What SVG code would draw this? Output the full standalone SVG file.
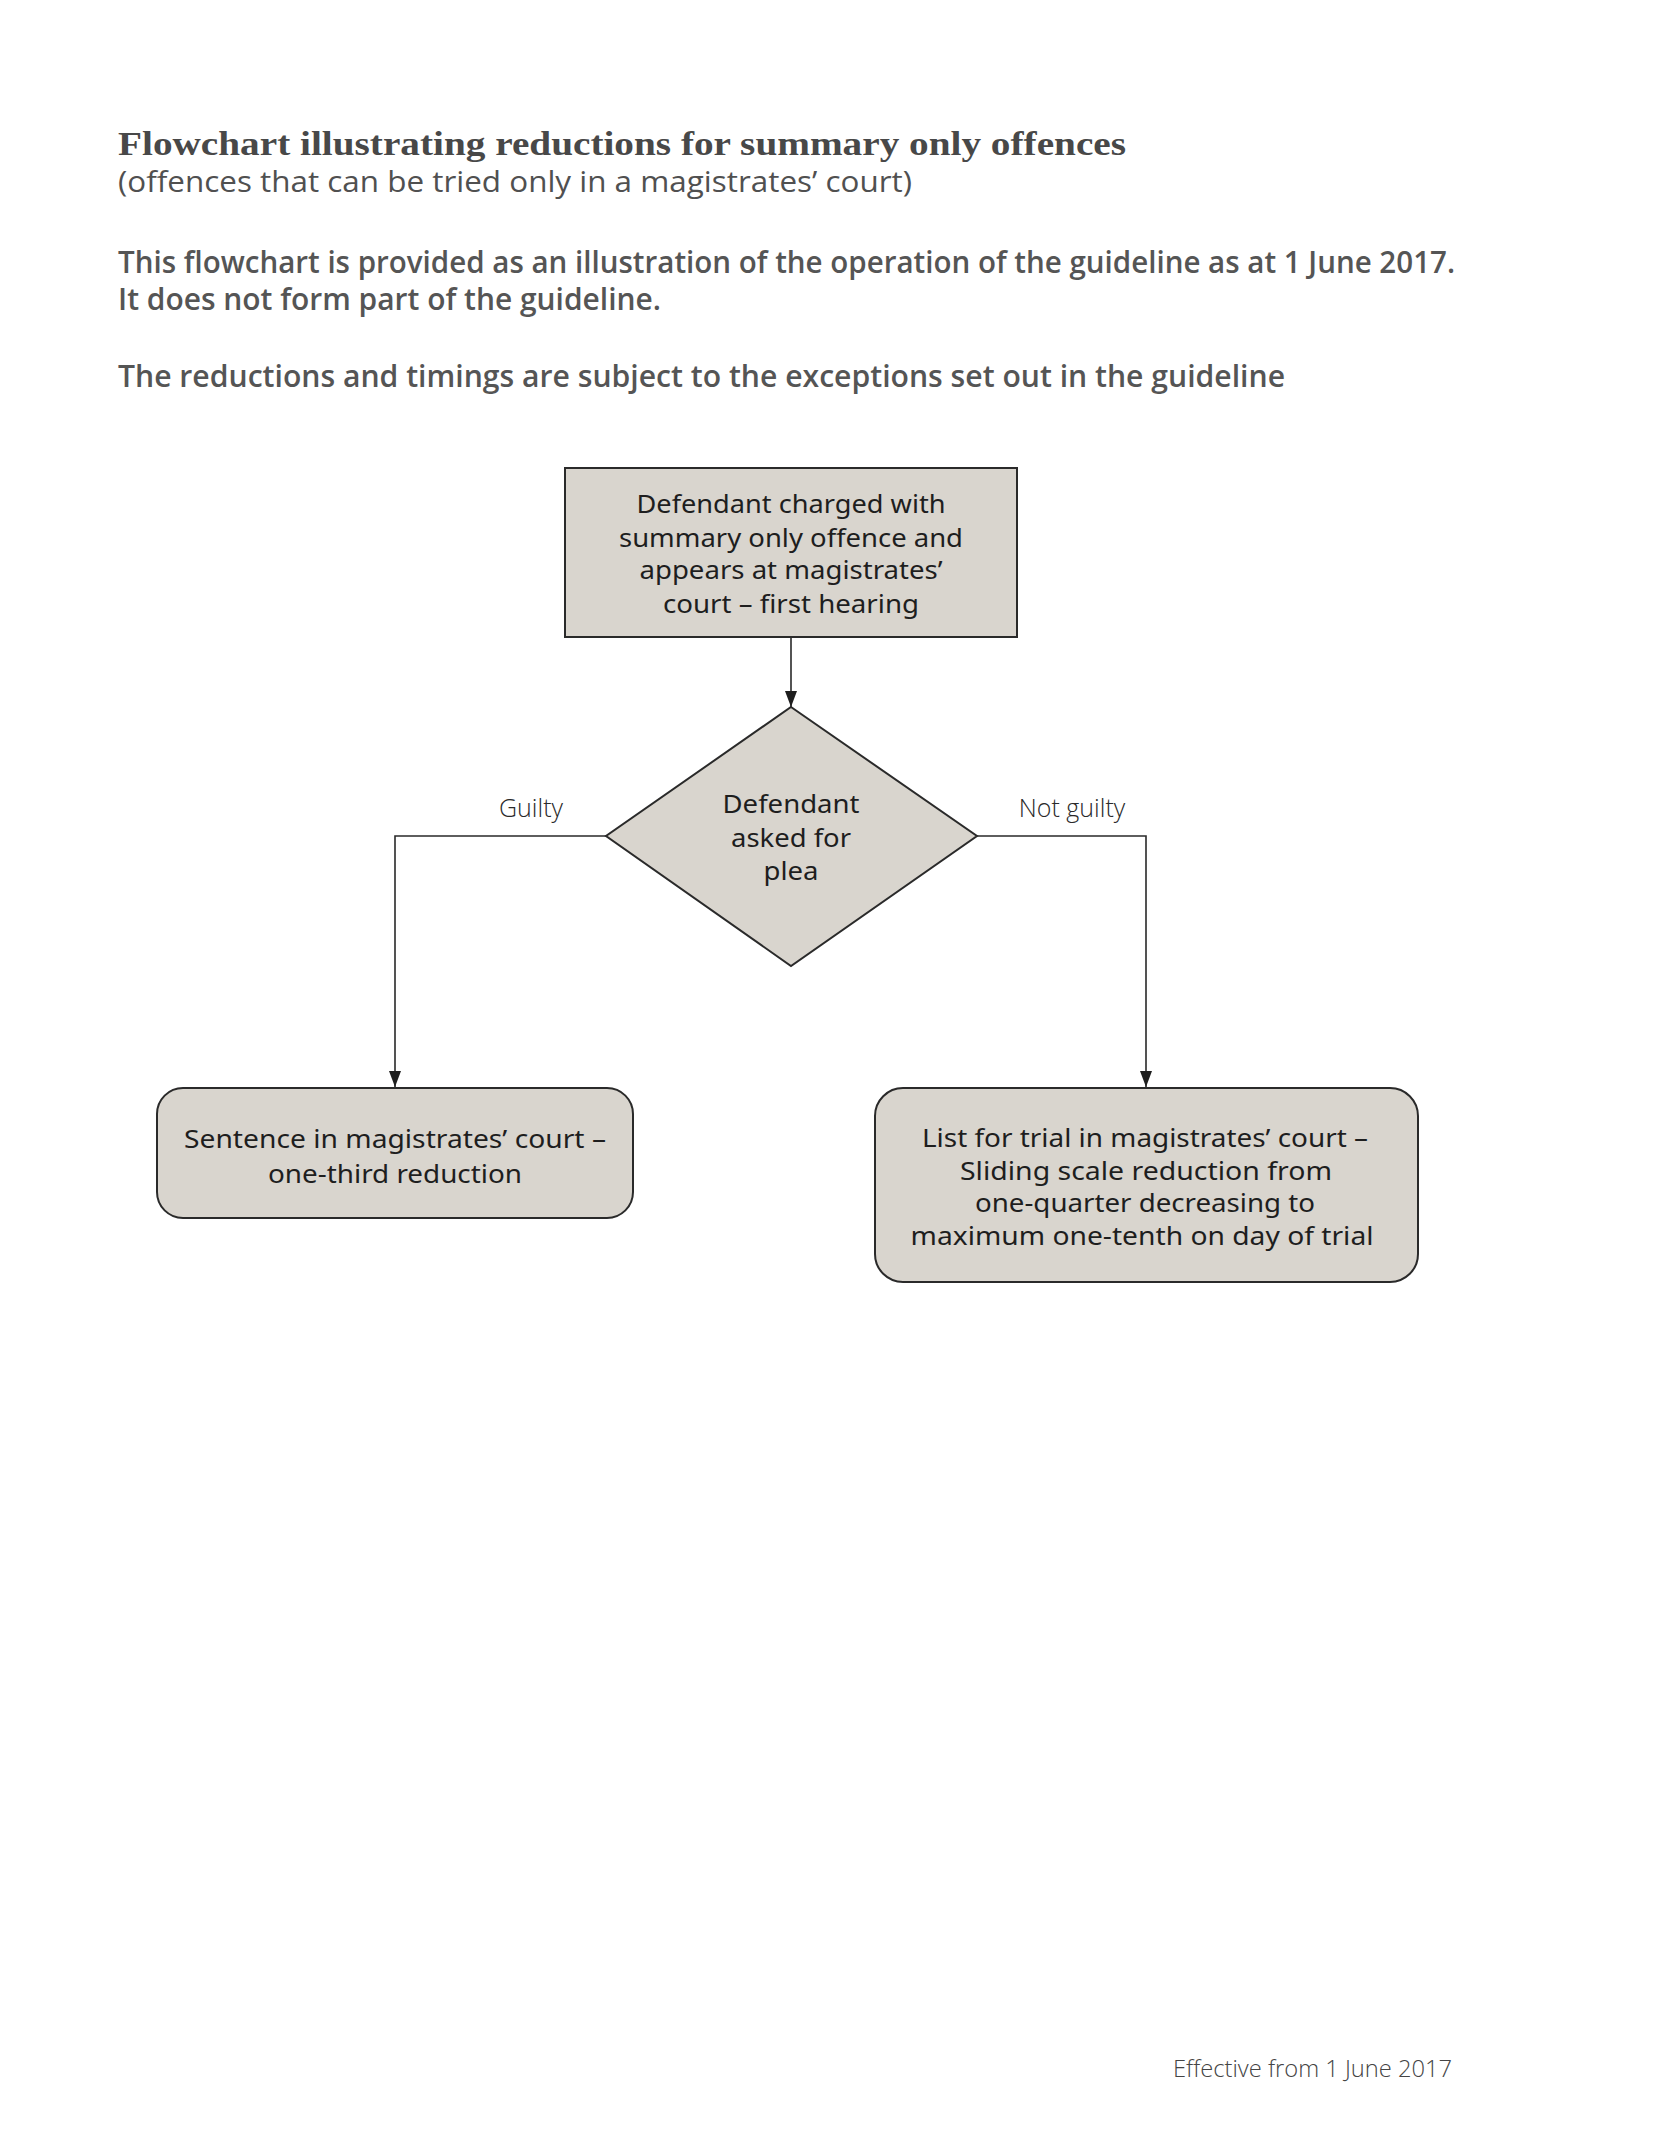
<svg xmlns="http://www.w3.org/2000/svg" width="1654" height="2152" viewBox="0 0 1654 2152">
<style>
.node{fill:#d9d5ce;stroke:#2a2a2a;stroke-width:2}
.ntext{font-family:"Noto Sans","Open Sans",sans-serif;font-size:26px;fill:#1e1e1e;text-anchor:middle}
.edge{fill:none;stroke:#2a2a2a;stroke-width:1.6}
.lbl{font-family:"Open Sans","Noto Sans",sans-serif;font-weight:300;font-size:25px;fill:#2a2a2a;text-anchor:middle}
.head{font-family:"Open Sans","Noto Sans",sans-serif;font-weight:600;font-size:30px;fill:#555}
</style>
<defs>
<marker id="arr" viewBox="0 0 16 12" refX="16" refY="6" markerWidth="16" markerHeight="12" markerUnits="userSpaceOnUse" orient="auto">
<path d="M0,0 L16,6 L0,12 Z" fill="#1e1e1e"/>
</marker>
</defs>
<rect width="1654" height="2152" fill="#fff"/>
<g id="header">
<text x="118" y="155" font-family="Liberation Serif,serif" font-weight="bold" font-size="34" fill="#484848" textLength="1008" lengthAdjust="spacingAndGlyphs">Flowchart illustrating reductions for summary only offences</text>
<text x="118" y="192" font-family="Open Sans,Noto Sans,sans-serif" font-weight="500" font-size="29" fill="#505050" textLength="794" lengthAdjust="spacingAndGlyphs">(offences that can be tried only in a magistrates’ court)</text>
<text class="head" x="118" y="273" textLength="1337" lengthAdjust="spacingAndGlyphs">This flowchart is provided as an illustration of the operation of the guideline as at 1 June 2017.</text>
<text class="head" x="118" y="310" textLength="543" lengthAdjust="spacingAndGlyphs">It does not form part of the guideline.</text>
<text class="head" x="118" y="387" textLength="1167" lengthAdjust="spacingAndGlyphs">The reductions and timings are subject to the exceptions set out in the guideline</text>
</g>
<g id="connectors">
<line class="edge" x1="791" y1="637" x2="791" y2="707" marker-end="url(#arr)"/>
<polyline class="edge" points="606,836 395,836 395,1087" marker-end="url(#arr)"/>
<polyline class="edge" points="977,836 1146,836 1146,1087" marker-end="url(#arr)"/>
<text class="lbl" x="531" y="817">Guilty</text>
<text class="lbl" x="1072" y="817">Not guilty</text>
</g>
<g id="start">
<rect class="node" x="565" y="468" width="452" height="169"/>
<text class="ntext" x="791" y="513" textLength="309" lengthAdjust="spacingAndGlyphs">Defendant charged with</text>
<text class="ntext" x="791" y="547" textLength="344" lengthAdjust="spacingAndGlyphs">summary only offence and</text>
<text class="ntext" x="791" y="579" textLength="303" lengthAdjust="spacingAndGlyphs">appears at magistrates’</text>
<text class="ntext" x="791" y="613" textLength="256" lengthAdjust="spacingAndGlyphs">court – first hearing</text>
</g>
<g id="decision">
<polygon class="node" points="791,707 977,836 791,966 606,836"/>
<text class="ntext" x="791" y="813" textLength="137" lengthAdjust="spacingAndGlyphs">Defendant</text>
<text class="ntext" x="791" y="847" textLength="120" lengthAdjust="spacingAndGlyphs">asked for</text>
<text class="ntext" x="791" y="880" textLength="55" lengthAdjust="spacingAndGlyphs">plea</text>
</g>
<g id="guilty">
<rect class="node" x="157" y="1088" width="476" height="130" rx="26" ry="26"/>
<text class="ntext" x="395" y="1148" textLength="422" lengthAdjust="spacingAndGlyphs">Sentence in magistrates’ court –</text>
<text class="ntext" x="395" y="1183" textLength="254" lengthAdjust="spacingAndGlyphs">one-third reduction</text>
</g>
<g id="notguilty">
<rect class="node" x="875" y="1088" width="543" height="194" rx="28" ry="28"/>
<text class="ntext" x="1145" y="1147" textLength="446" lengthAdjust="spacingAndGlyphs">List for trial in magistrates’ court –</text>
<text class="ntext" x="1146" y="1180" textLength="372" lengthAdjust="spacingAndGlyphs">Sliding scale reduction from</text>
<text class="ntext" x="1145" y="1212" textLength="340" lengthAdjust="spacingAndGlyphs">one-quarter decreasing to</text>
<text class="ntext" x="1142" y="1245" textLength="463" lengthAdjust="spacingAndGlyphs">maximum one-tenth on day of trial</text>
</g>
<g id="footer">
<text x="1173" y="2077" font-family="Open Sans,Noto Sans,sans-serif" font-weight="300" font-size="24" fill="#444" textLength="279" lengthAdjust="spacingAndGlyphs">Effective from 1 June 2017</text>
</g>
</svg>
